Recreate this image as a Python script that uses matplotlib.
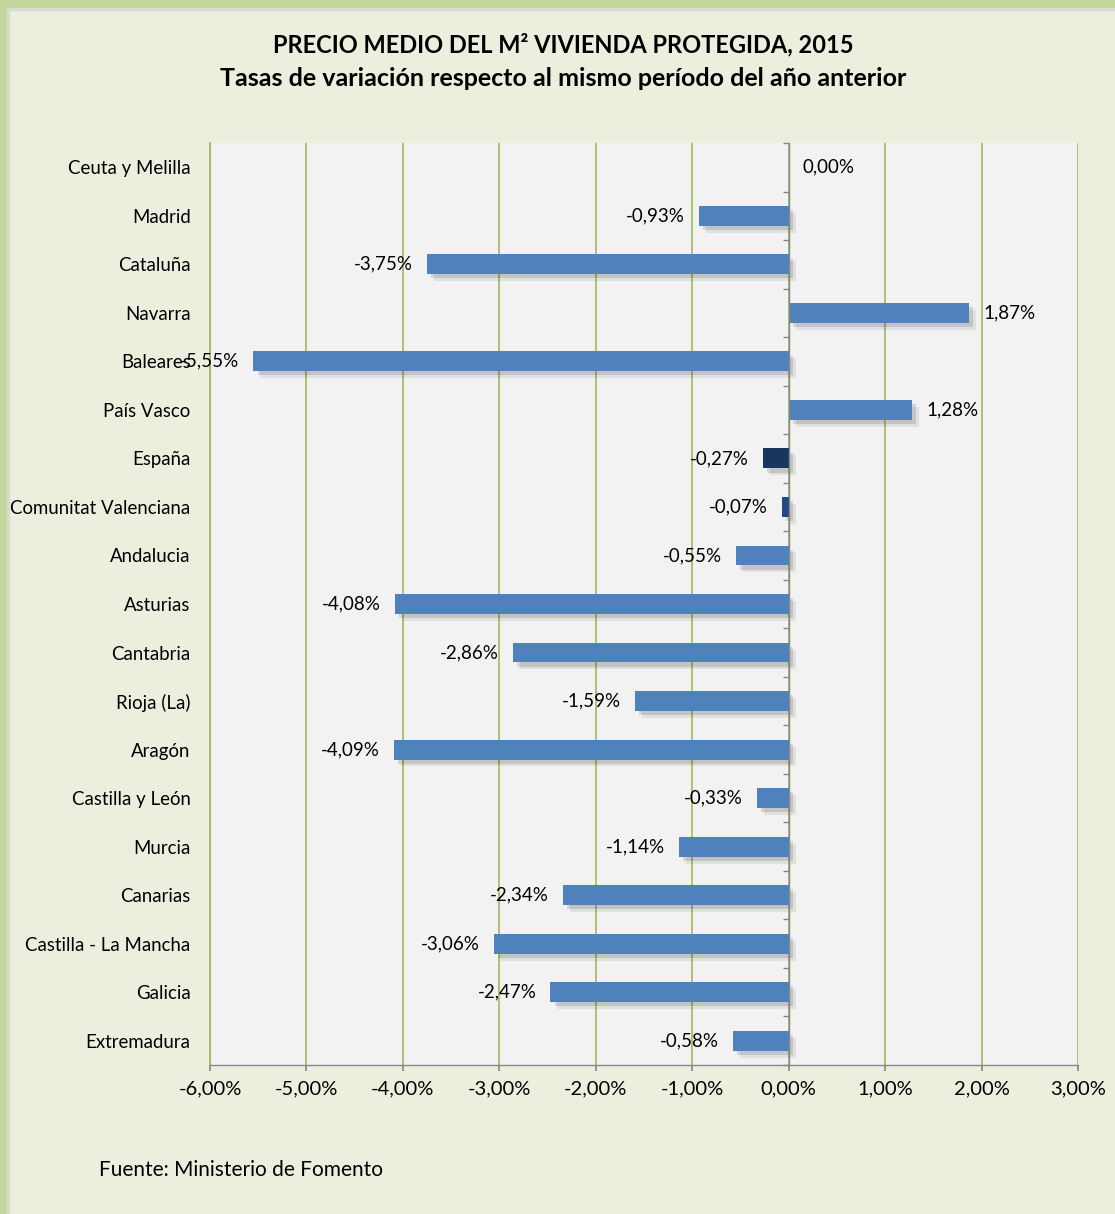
import numpy as np
import matplotlib
matplotlib.use("Agg")
import matplotlib.pyplot as plt
import matplotlib.patheffects as pe
from matplotlib.patches import Rectangle

plt.rcParams['font.family'] = ['Lato', 'DejaVu Sans']

regiones = ["Ceuta y Melilla", "Madrid", "Cataluña", "Navarra", "Baleares",
            "País Vasco", "España", "Comunitat Valenciana", "Andalucia",
            "Asturias", "Cantabria", "Rioja (La)", "Aragón", "Castilla y León",
            "Murcia", "Canarias", "Castilla - La Mancha", "Galicia", "Extremadura"]
tasas = [0.00, -0.93, -3.75, 1.87, -5.55, 1.28, -0.27, -0.07, -0.55, -4.08,
         -2.86, -1.59, -4.09, -0.33, -1.14, -2.34, -3.06, -2.47, -0.58]
xticks = [-6, -5, -4, -3, -2, -1, 0, 1, 2, 3]

azul = "#4f81bd"
colores = {"España": "#17375e", "Comunitat Valenciana": "#1f4a85"}
verde = "#9bbb59"
gris = "#868686"

def fmt(v):
    return ("%.2f" % v).replace(".", ",") + "%"

fig = plt.figure(figsize=(11.15, 12.14), dpi=100, facecolor="#ebf0de")
W, H = 1115, 1214
# marco verde (izquierda y arriba)
fig.patches.append(Rectangle((0, 0), 7 / W, 1, transform=fig.transFigure, color="#c3d69b", zorder=0))
fig.patches.append(Rectangle((0, 1 - 8 / H), 1, 8 / H, transform=fig.transFigure, color="#c3d69b", zorder=0))
fig.patches.append(Rectangle((7 / W, 1 - 10 / H), 1, 2 / H, transform=fig.transFigure, color="#d9dbd0", zorder=0))
fig.patches.append(Rectangle((7 / W, 0), 2 / W, 1 - 8 / H, transform=fig.transFigure, color="#d9dbd0", zorder=0))

ax = fig.add_axes([210 / W, 1 - 1065 / H, 868 / W, 922 / H])
ax.set_facecolor("#f2f2f2")

y = np.arange(len(regiones))
cols = [colores.get(r, azul) for r in regiones]
bars = ax.barh(y, tasas, height=0.41, color=cols, zorder=3)
for b in bars:
    b.set_path_effects([pe.withSimplePatchShadow(offset=(5, -5), shadow_rgbFace="k", alpha=0.07),
                        pe.withSimplePatchShadow(offset=(3, -3), shadow_rgbFace="k", alpha=0.12),
                        pe.Normal()])

for yi, v in zip(y, tasas):
    if v < 0:
        ax.annotate(fmt(v), (v, yi), xytext=(-14, 0), textcoords="offset pixels",
                    ha="right", va="center", fontsize=13.5, color="black", zorder=5)
    else:
        ax.annotate(fmt(v), (v, yi), xytext=(14, 0), textcoords="offset pixels",
                    ha="left", va="center", fontsize=13.5, color="black", zorder=5)

ax.set_xlim(-6, 3)
ax.set_ylim(len(regiones) - 0.5, -0.5)
ax.set_xticks(xticks)
ax.set_xticklabels([fmt(t) for t in xticks], fontsize=14.5)
ax.set_yticks(y)
ax.set_yticklabels(regiones, fontsize=13.4)
ax.tick_params(axis="y", length=0, pad=14)
ax.tick_params(axis="x", length=4, width=1.2, color=gris, pad=7, direction="out")

ax.grid(axis="x", color=verde, linewidth=1.2, zorder=1)
ax.set_axisbelow(True)
for s in ["top", "right"]:
    ax.spines[s].set_visible(False)
ax.spines["left"].set_color(verde)
ax.spines["left"].set_linewidth(1.2)
ax.spines["bottom"].set_color(gris)
ax.spines["bottom"].set_linewidth(1.0)

# eje vertical en cero con marcas
ax.axvline(0, color=gris, linewidth=1.0, zorder=4)
lim = np.arange(len(regiones) + 1) - 0.5
ax.plot(np.zeros(len(lim)), lim, linestyle="none", marker=0, markersize=4.5,
        markeredgewidth=1.0, color=gris, zorder=4, clip_on=False)

fig.text(0.505, 1 - 45 / H, "PRECIO MEDIO DEL M² VIVIENDA PROTEGIDA, 2015",
         ha="center", va="center", fontsize=17, fontweight="bold")
fig.text(0.505, 1 - 78 / H, "Tasas de variación respecto al mismo período del año anterior",
         ha="center", va="center", fontsize=18, fontweight="bold")
fig.text(99 / W, 1 - 1170 / H, "Fuente: Ministerio de Fomento",
         ha="left", va="center", fontsize=15)

fig.savefig("out.png", dpi=100, facecolor=fig.get_facecolor())
